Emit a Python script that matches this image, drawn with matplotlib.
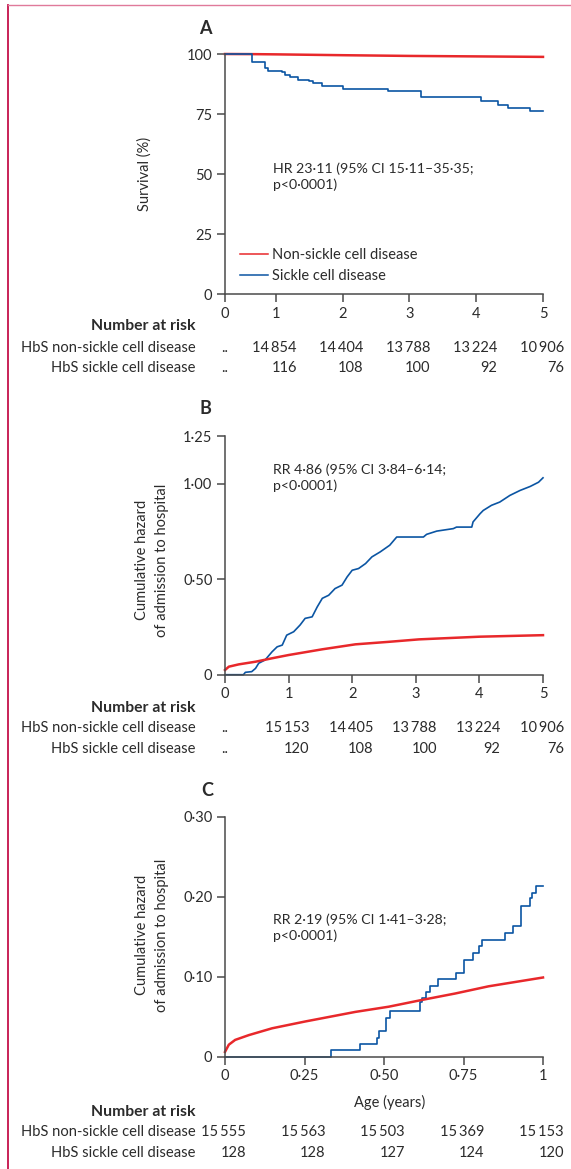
import matplotlib
matplotlib.use('Agg')
import matplotlib.pyplot as plt
from matplotlib.lines import Line2D
from matplotlib.transforms import blended_transform_factory, offset_copy

# ---- data ----
# A: survival (%), time in years (the A axis starts a little after 0)
a_scd_t = [0.24, 0.64, 0.84, 0.89, 1.09, 1.14, 1.21, 1.34, 1.49, 1.56, 1.69, 2.01, 2.68, 3.18, 4.07, 4.32, 4.47, 4.80, 5.00]
a_scd_s = [100, 96.5, 94.2, 92.8, 92.5, 91.1, 90.3, 89.3, 88.6, 87.9, 86.5, 85.5, 84.7, 81.9, 80.3, 78.9, 77.5, 76.4, 76.4]
a_non_t = [0.24, 0.64, 1, 2, 3, 4, 5]
a_non_s = [100, 99.95, 99.85, 99.5, 99.2, 99.0, 98.8]

# B: cumulative hazard of admission, 0-5 years
b_scd_t = [0, 0.29, 0.32, 0.42, 0.48, 0.53, 0.63, 0.74, 0.82, 0.90, 0.97, 1.08, 1.18, 1.26, 1.37, 1.45,
           1.53, 1.63, 1.73, 1.84, 1.92, 2.00, 2.10, 2.21, 2.31, 2.44, 2.59, 2.70, 3.12, 3.17, 3.33,
           3.59, 3.64, 3.88, 3.90, 4.01, 4.06, 4.19, 4.32, 4.48, 4.64, 4.80, 4.93, 5.00]
b_scd_h = [0, 0, 0.0125, 0.016, 0.033, 0.06, 0.077, 0.12, 0.146, 0.155, 0.207, 0.225, 0.26, 0.295, 0.303, 0.355,
           0.40, 0.416, 0.451, 0.469, 0.512, 0.547, 0.556, 0.582, 0.617, 0.643, 0.678, 0.721, 0.721, 0.735, 0.752,
           0.765, 0.773, 0.773, 0.80, 0.843, 0.86, 0.887, 0.904, 0.939, 0.965, 0.986, 1.008, 1.031]
b_non_t = [0, 0.06, 0.215, 0.48, 0.74, 1.0, 1.53, 2.05, 2.57, 3.05, 4, 5]
b_non_h = [0.0245, 0.042, 0.054, 0.068, 0.086, 0.103, 0.133, 0.159, 0.172, 0.185, 0.199, 0.207]

# C: cumulative hazard of admission, first year
c_scd_t = [0, 0.334, 0.426, 0.477, 0.485, 0.506, 0.519, 0.613, 0.620, 0.632, 0.645, 0.671, 0.726, 0.750,
           0.780, 0.799, 0.809, 0.880, 0.907, 0.930, 0.959, 0.964, 0.978, 1.0]
c_scd_h = [0, 0.008, 0.016, 0.024, 0.032, 0.048, 0.057, 0.069, 0.073, 0.081, 0.089, 0.097, 0.105, 0.121,
           0.130, 0.139, 0.146, 0.155, 0.164, 0.188, 0.198, 0.205, 0.214, 0.214]
c_non_t = [0, 0.012, 0.032, 0.075, 0.148, 0.252, 0.41, 0.515, 0.62, 0.724, 0.829, 1.0]
c_non_h = [0.006, 0.015, 0.021, 0.027, 0.0355, 0.044, 0.056, 0.0625, 0.071, 0.079, 0.088, 0.099]

# numbers at risk
risk_ab_t = [1, 2, 3, 4, 5]
a_risk_non = [14854, 14404, 13788, 13224, 10906]
a_risk_scd = [116, 108, 100, 92, 76]
b_risk_non = [15153, 14405, 13788, 13224, 10906]
b_risk_scd = [120, 108, 100, 92, 76]
risk_c_t = [0, 0.25, 0.5, 0.75, 1]
c_risk_non = [15555, 15563, 15503, 15369, 15153]
c_risk_scd = [128, 128, 127, 124, 120]

RED = '#e8282b'
BLUE = '#0b55a3'
AXC = '#4a4a4a'
TXT = '#2b2b2b'

plt.rcParams['font.family'] = ['Lato', 'DejaVu Sans']
plt.rcParams['font.size'] = 10
plt.rcParams['text.color'] = TXT

W, H = 571, 1169
fig = plt.figure(figsize=(W / 100, H / 100), dpi=100)


def box(left, top, right, bottom):
    return [left / W, 1 - bottom / H, (right - left) / W, (bottom - top) / H]


def fy(py):
    return 1 - py / H


def style(ax):
    for s in ['top', 'right']:
        ax.spines[s].set_visible(False)
    for s in ['left', 'bottom']:
        ax.spines[s].set_color(AXC)
        ax.spines[s].set_linewidth(1.1)
    ax.tick_params(direction='out', length=6, width=1.1, color=AXC, labelcolor=TXT, labelsize=10.5, pad=3)


def fmt(v):
    return f'{v:,}'.replace(',', '\u2009')


def at_risk(ax, times, rows, ys, lead=None):
    trans = blended_transform_factory(ax.transData, fig.transFigure)
    shifted = offset_copy(trans, fig=fig, x=21, y=0, units='dots')
    for vals, py in zip(rows, ys):
        if lead is not None:
            ax.text(lead, fy(py), '..', transform=trans, ha='center', va='center', fontsize=10.5)
        for t, v in zip(times, vals):
            ax.text(t, fy(py), fmt(v), transform=shifted, ha='right', va='center', fontsize=10.5)


def risk_labels(ys):
    fig.text(196 / W, fy(ys[0]), 'Number at risk', ha='right', va='center', fontweight='bold', fontsize=11.3)
    fig.text(196 / W, fy(ys[1]), 'HbS non-sickle cell disease', ha='right', va='center', fontsize=10.6)
    fig.text(196 / W, fy(ys[2]), 'HbS sickle cell disease', ha='right', va='center', fontsize=10.6)


# ---- panel A ----
axA = fig.add_axes(box(225, 54, 543, 294))
style(axA)
axA.plot(a_non_t, a_non_s, color=RED, lw=1.8, clip_on=False, label='Non-sickle cell disease')
axA.plot(a_scd_t, a_scd_s, color=BLUE, lw=1.2, drawstyle='steps-post', clip_on=False, label='Sickle cell disease')
axA.set_xlim(0.24, 5)
axA.set_ylim(0, 100)
axA.set_xticks([0.24, 1, 2, 3, 4, 5])
axA.set_xticklabels(['0', '1', '2', '3', '4', '5'])
axA.set_yticks([0, 25, 50, 75, 100])
leg = axA.legend(loc='upper left', bbox_to_anchor=(0.047, 0.19), frameon=False, borderpad=0, borderaxespad=0,
                 handlelength=1.9, handletextpad=0.3, labelspacing=0.45, fontsize=10.5)
for h in leg.get_lines():
    h.set_linewidth(1.1)
fig.text(205 / W, fy(28), 'A', ha='center', va='center', fontsize=13, fontweight='bold')
fig.text(145 / W, fy(174), 'Survival (%)', rotation=90, ha='center', va='center', fontsize=10.5)
fig.text(273 / W, fy(162), 'HR 23·11 (95% CI 15·11–35·35;\np<0·0001)', ha='left', va='top', linespacing=1.35,
         fontsize=10.2)
ya = [326, 348, 368]
risk_labels(ya)
at_risk(axA, risk_ab_t, [a_risk_non, a_risk_scd], ya[1:], lead=0.24)

# ---- panel B ----
axB = fig.add_axes(box(225, 436, 543, 674.7))
style(axB)
axB.plot(b_scd_t, b_scd_h, color=BLUE, lw=1.2, clip_on=False)
axB.plot(b_non_t, b_non_h, color=RED, lw=1.8, clip_on=False)
axB.set_xlim(0, 5)
axB.set_ylim(0, 1.25)
axB.set_xticks([0, 1, 2, 3, 4, 5])
axB.set_yticks([0, 0.5, 1.0, 1.25])
axB.set_yticklabels(['0', '0·50', '1·00', '1·25'])
fig.text(205 / W, fy(408), 'B', ha='center', va='center', fontsize=13, fontweight='bold')
fig.text(152 / W, fy(560), 'Cumulative hazard\nof admission to hospital', rotation=90, ha='center', va='center',
         multialignment='center', linespacing=1.5, fontsize=10.5)
fig.text(273 / W, fy(463), 'RR 4·86 (95% CI 3·84–6·14;\np<0·0001)', ha='left', va='top', linespacing=1.35,
         fontsize=10.2)
yb = [708, 728, 749]
risk_labels(yb)
at_risk(axB, risk_ab_t, [b_risk_non, b_risk_scd], yb[1:], lead=0)

# ---- panel C ----
axC = fig.add_axes(box(225, 816.7, 543, 1056.7))
style(axC)
axC.plot(c_scd_t, c_scd_h, color=BLUE, lw=1.2, drawstyle='steps-post', clip_on=False)
axC.plot(c_non_t, c_non_h, color=RED, lw=1.8, clip_on=False)
axC.set_xlim(0, 1)
axC.set_ylim(0, 0.30)
axC.set_xticks([0, 0.25, 0.5, 0.75, 1])
axC.set_xticklabels(['0', '0·25', '0·50', '0·75', '1'])
axC.set_yticks([0, 0.1, 0.2, 0.3])
axC.set_yticklabels(['0', '0·10', '0·20', '0·30'])
fig.text(207 / W, fy(790), 'C', ha='center', va='center', fontsize=13, fontweight='bold')
fig.text(152 / W, fy(935), 'Cumulative hazard\nof admission to hospital', rotation=90, ha='center', va='center',
         multialignment='center', linespacing=1.5, fontsize=10.5)
fig.text(273 / W, fy(913), 'RR 2·19 (95% CI 1·41–3·28;\np<0·0001)', ha='left', va='top', linespacing=1.35,
         fontsize=10.2)
fig.text(390 / W, fy(1102), 'Age (years)', ha='center', va='center', fontsize=10.5)
yc = [1112, 1132, 1153]
risk_labels(yc)
at_risk(axC, risk_c_t, [c_risk_non, c_risk_scd], yc[1:])

# page frame (left and top rules)
fig.add_artist(Line2D([8 / W, 8 / W], [fy(5), 0], color='#c4104a', lw=1.3))
fig.add_artist(Line2D([8 / W, 1], [fy(5), fy(5)], color='#e07a9a', lw=1.0))

fig.savefig('out.png', dpi=100)
